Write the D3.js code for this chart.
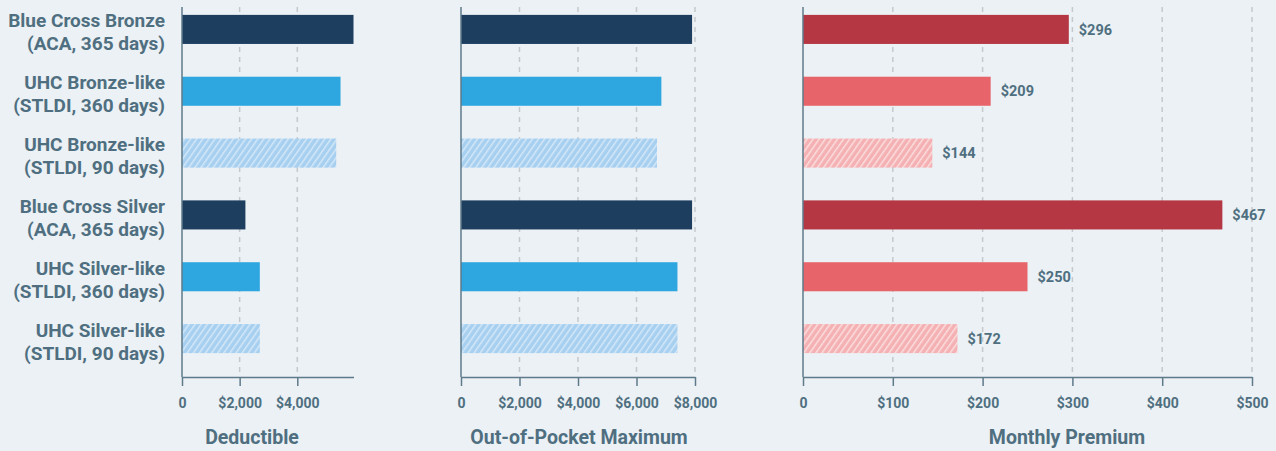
<!DOCTYPE html>
<html>
<head>
<meta charset="utf-8">
<script src="https://cdn.jsdelivr.net/npm/d3@7"></script>
<style>
  html, body { margin: 0; padding: 0; background: #ebf1f5; }
  svg { display: block; font-family: Roboto, "Liberation Sans", sans-serif; font-weight: 700; }
</style>
</head>
<body>
<div id="chart"></div>
<script>
// plan labels (two lines each)
const plans = [
    ["Blue Cross Bronze", "(ACA, 365 days)"],
    ["UHC Bronze-like", "(STLDI, 360 days)"],
    ["UHC Bronze-like", "(STLDI, 90 days)"],
    ["Blue Cross Silver", "(ACA, 365 days)"],
    ["UHC Silver-like", "(STLDI, 360 days)"],
    ["UHC Silver-like", "(STLDI, 90 days)"]
];
const planKind = ["aca", "stldi360", "stldi90", "aca", "stldi360", "stldi90"];

const deductible = [5950, 5500, 5350, 2200, 2700, 2700];
const oopMax = [7900, 6850, 6700, 7900, 7400, 7400];
const premium = [296, 209, 144, 467, 250, 172];

const deductibleTicks = [0, 2000, 4000];
const oopTicks = [0, 2000, 4000, 6000, 8000];
const premiumTicks = [0, 100, 200, 300, 400, 500];

const W = 1276, H = 451;
const textColor = "#4f6f80";
const axisColor = "#5f7a8a";

const svg = d3.select("#chart").append("svg")
    .attr("width", W)
    .attr("height", H);

svg.append("rect").attr("width", W).attr("height", H).attr("fill", "#ebf1f5");

// hatch patterns for the 90-day plans
const defs = svg.append("defs");
function hatch(id, base, stripe) {
    const p = defs.append("pattern")
        .attr("id", id)
        .attr("patternUnits", "userSpaceOnUse")
        .attr("width", 5)
        .attr("height", 5)
        .attr("patternTransform", "rotate(35)");
    p.append("rect").attr("width", 5).attr("height", 5).attr("fill", base);
    p.append("rect").attr("x", 0).attr("width", 1.5).attr("height", 5).attr("fill", stripe);
}
hatch("hatch-blue", "#a6cff0", "#d4e8f8");
hatch("hatch-red", "#f4b0b3", "#fbdede");

const blueFill = { aca: "#1e3e60", stldi360: "#2ea7e0", stldi90: "url(#hatch-blue)" };
const redFill = { aca: "#b63744", stldi360: "#e8646b", stldi90: "url(#hatch-red)" };

const axisTop = 7, axisBottom = 377;

const y = d3.scaleBand()
    .domain(d3.range(plans.length))
    .range([-1.5, 369.5])
    .paddingInner(0.53)
    .paddingOuter(0.265);

// row labels
const labels = svg.append("g").attr("class", "row-labels");
plans.forEach((lines, i) => {
    const cy = y(i) + y.bandwidth() / 2;
    const t = labels.append("text")
        .attr("text-anchor", "end")
        .attr("font-size", "19px")
        .attr("fill", textColor);
    t.append("tspan").attr("x", 165).attr("y", cy - 2).text(lines[0]);
    t.append("tspan").attr("x", 165).attr("y", cy + 21).text(lines[1]);
});

const fmt = d3.format(",");
const money = d => d === 0 ? "0" : "$" + fmt(d);

const panels = [
    { title: "Deductible", values: deductible, ticks: deductibleTicks, domain: [0, 5950], range: [182, 353.5], fills: blueFill, titleX: 252, showValues: false },
    { title: "Out-of-Pocket Maximum", values: oopMax, ticks: oopTicks, domain: [0, 8000], range: [461, 695], fills: blueFill, titleX: 579, showValues: false },
    { title: "Monthly Premium", values: premium, ticks: premiumTicks, domain: [0, 500], range: [803, 1252], fills: redFill, titleX: 1067, showValues: true }
];

panels.forEach(p => {
    const x = d3.scaleLinear().domain(p.domain).range(p.range);
    const g = svg.append("g");

    // dashed gridlines
    g.selectAll(".grid")
        .data(p.ticks.filter(d => d > 0))
        .join("line")
        .attr("class", "grid")
        .attr("x1", d => x(d))
        .attr("x2", d => x(d))
        .attr("y1", axisTop)
        .attr("y2", axisBottom)
        .attr("stroke", "#c6c9cc")
        .attr("stroke-width", 1.5)
        .attr("stroke-dasharray", "5,5");

    // bars
    g.selectAll(".bar")
        .data(p.values)
        .join("rect")
        .attr("class", "bar")
        .attr("x", x(0))
        .attr("y", (d, i) => y(i))
        .attr("width", d => x(d) - x(0))
        .attr("height", y.bandwidth())
        .attr("fill", (d, i) => p.fills[planKind[i]]);

    if (p.showValues) {
        g.selectAll(".val")
            .data(p.values)
            .join("text")
            .attr("class", "val")
            .attr("x", d => x(d) + 10)
            .attr("y", (d, i) => y(i) + y.bandwidth() / 2)
            .attr("dy", "0.36em")
            .attr("font-size", "14.5px")
            .attr("fill", textColor)
            .text(d => "$" + d);
    }

    // vertical axis line
    g.append("line")
        .attr("x1", x(0)).attr("x2", x(0))
        .attr("y1", axisTop).attr("y2", axisBottom)
        .attr("stroke", axisColor)
        .attr("stroke-width", 1.5);

    // bottom axis
    const ax = g.append("g")
        .attr("transform", `translate(0,${axisBottom})`)
        .call(d3.axisBottom(x)
            .tickValues(p.ticks)
            .tickFormat(money)
            .tickSize(9)
            .tickSizeOuter(0)
            .tickPadding(12));
    ax.select(".domain").attr("stroke", axisColor).attr("stroke-width", 1.5);
    ax.selectAll(".tick line").attr("stroke", axisColor).attr("stroke-width", 1.5);
    ax.selectAll(".tick text")
        .attr("fill", textColor)
        .attr("font-size", "14px")
        .attr("font-family", "Roboto, sans-serif")
        .attr("font-weight", 700);

    g.append("text")
        .attr("x", p.titleX)
        .attr("y", 444)
        .attr("text-anchor", "middle")
        .attr("font-size", "19.5px")
        .attr("fill", textColor)
        .text(p.title);
});
</script>
</body>
</html>
